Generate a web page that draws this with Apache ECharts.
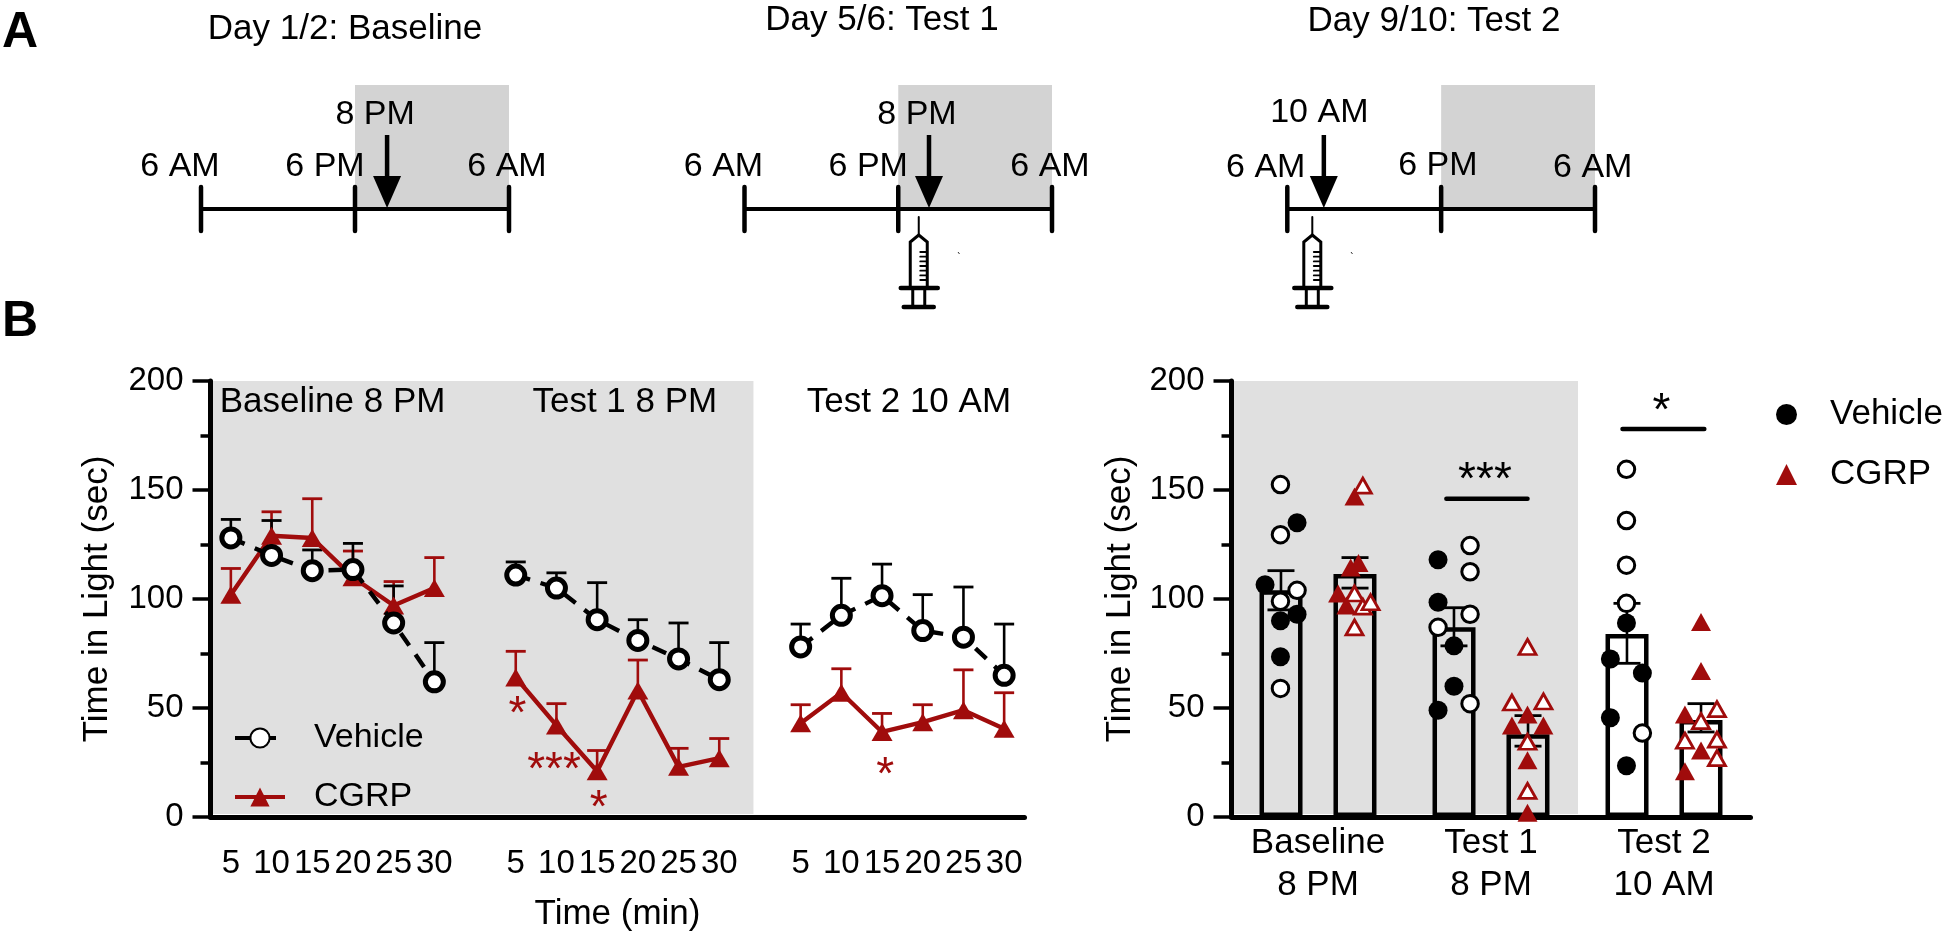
<!DOCTYPE html>
<html>
<head>
<meta charset="utf-8">
<title>Time in Light</title>
<script src="https://cdn.jsdelivr.net/npm/echarts@6/dist/echarts.min.js"></script>
<style>html,body{margin:0;padding:0;background:#fff}#c{width:1946px;height:937px}</style>
</head>
<body>
<div id="c"></div>
<script>
// ---------- Panel B, left: time course ----------
const timeLabels = ['5','10','15','20','25','30','','5','10','15','20','25','30','','5','10','15','20','25','30'];
const vehicleMean = [128,120,113,113.5,89,62,null,111,105,90.5,81,72.5,63,null,78,92.5,101.5,85.5,82.5,65];
const vehicleTop  = [136.5,136,122.5,125.5,106,80,null,117,112,107.5,90.5,89,80,null,88.5,109.5,116,102,105.5,88.5];
const cgrpMean = [102,129,128,110,97,105,null,64,42,21,58,23,27,null,43,57,39,43.5,49,40.5];
const cgrpTop  = [114,140,146,122,108,119,null,76,52,30.5,72,31.5,36,null,51.5,68,47.5,51.5,67.5,57];

// ---------- Panel B, right: bars with individual animals ----------
const sessionLabels = ['Baseline\n8 PM','Test 1\n8 PM','Test 2\n10 AM'];
const barVehicle = [104,87,84];
const barCgrp = [111.5,38,44.5];
const errVehicle = [[0.286,95,113],[1.286,78.5,96],[2.286,70.5,98]];
const errCgrp = [[0.714,105,119],[1.714,32.5,46.5],[2.714,39,52]];
const vehicleFilled = [[0.194,106.5],[0.379,135],[0.379,93],[0.283,90],[0.283,73.5],[1.194,118],[1.194,98.5],[1.286,78.5],[1.286,60],[1.194,49],[2.283,89],[2.19,72.5],[2.375,66],[2.19,45.5],[2.283,23.5]];
const vehicleOpen = [[0.283,152.5],[0.283,129.5],[0.379,104],[0.283,99],[0.283,59],[1.379,124.5],[1.379,112.5],[1.379,93],[1.194,87],[1.379,52],[2.283,159.5],[2.283,136],[2.283,115.5],[2.283,98],[2.375,38.5]];
const cgrpFilled = [[0.711,147],[0.734,116.5],[0.689,114.5],[0.616,102.5],[0.664,97],[1.711,47],[1.621,42],[1.803,42],[1.711,26],[1.711,2],[2.714,89.5],[2.714,67],[2.621,47],[2.714,30.5],[2.621,21]];
const cgrpOpen = [[0.759,152],[0.711,102.5],[0.759,96.5],[0.804,98.5],[0.711,87],[1.711,78],[1.621,52.5],[1.803,53],[1.711,34.5],[1.711,12],[2.806,49.5],[2.714,44],[2.621,35],[2.806,35.5],[2.806,27]];
const sigBars = [[1.242,1.711,146,'***'],[2.26,2.733,178,'*']];

// ---------- Panel A: timelines (hours after 6 AM) ----------
const timelineHours = [0,12,24];
const timelineLabels = ['6 AM','6 PM','6 AM'];
const darkHours = [12,24];
const timelineTitles = ['Day 1/2: Baseline','Day 5/6: Test 1','Day 9/10: Test 2'];
const arrowHours = [14.5,14.4,2.85];
const arrowLabels = ['8 PM','8 PM','10 AM'];
const syringeHours = [null,13.6,1.95];

const FONT = '"Liberation Sans", Arial, sans-serif';
const RED = '#a00c0c';
const GREY_B = '#e0e0e0';
const GREY_A = '#d3d3d3';

const line = (x1,y1,x2,y2,w,c) => ({type:'line',shape:{x1,y1,x2,y2},style:{stroke:c||'#000',lineWidth:w,lineCap:'round'}});
const txt = (x,y,t,size,c) => ({type:'text',style:{x,y,text:t,align:'center',verticalAlign:'middle',fill:c||'#000',font:`${size}px ${FONT}`}});

function syringe(x, y0){
  const kids = [
    line(x,y0+8,x,y0+26,2),
    {type:'polyline',shape:{points:[[x-8.5,y0+79],[x-8.5,y0+33],[x,y0+26],[x+8.5,y0+33],[x+8.5,y0+79]]},style:{stroke:'#000',lineWidth:3,fill:'none'}},
    line(x-18,y0+79,x+19,y0+79,4.5),
    line(x-15,y0+98,x+15,y0+98,4.5),
    line(x-6,y0+79,x-6,y0+98,3),
    line(x+6,y0+79,x+6,y0+98,3)
  ];
  [43,47.7,52.4,57,61.7,66.4,71].forEach(d => kids.push(line(x+1.5,y0+d,x+8,y0+d,1.8)));
  return kids;
}

const labelNudge = [[-21,-30,-2],[-21,-30,-2],[-21.6,-3.3,-2.3]];
const labelY = [[167,167,167],[167,167,167],[168,166,168]];
const arrowLabelNudge = [-12,-12,-4.5];
const arrowLabelY = [115,115,113];
const speckX = [null,958,1351];

function timelineSeries(i){
  return {
    type:'custom', xAxisIndex:i, yAxisIndex:i, silent:true, z:2,
    data:[[0,0]], encode:{x:0,y:1},
    renderItem(params, api){
      const p = h => api.coord([h,0]);
      const top = api.coord([0,1])[1];
      const kids = [];
      const a = p(darkHours[0]), b = p(darkHours[1]);
      kids.push({type:'rect',shape:{x:a[0],y:top,width:b[0]-a[0],height:a[1]-top},style:{fill:GREY_A}});
      kids.push({type:'line',shape:{x1:p(0)[0],y1:a[1],x2:p(24)[0],y2:a[1]},style:{stroke:'#000',lineWidth:4}});
      timelineHours.forEach((h,k)=>{
        const q = p(h);
        kids.push(line(q[0],q[1]-22,q[0],q[1]+22,4.5));
        kids.push(txt(q[0]+labelNudge[i][k],labelY[i][k],timelineLabels[k],34));
      });
      const ar = p(arrowHours[i]);
      kids.push({type:'line',shape:{x1:ar[0],y1:ar[1]-74,x2:ar[0],y2:ar[1]-32},style:{stroke:'#000',lineWidth:4.5}});
      kids.push({type:'polygon',shape:{points:[[ar[0]-14,ar[1]-33],[ar[0]+14,ar[1]-33],[ar[0],ar[1]-1]]},style:{fill:'#000'}});
      kids.push(txt(ar[0]+arrowLabelNudge[i],arrowLabelY[i],arrowLabels[i],34));
      if(syringeHours[i]!==null){
        const s = p(syringeHours[i]);
        kids.push(...syringe(s[0],s[1]));
        kids.push({type:'line',shape:{x1:speckX[i],y1:252,x2:speckX[i]+1.5,y2:254},style:{stroke:'#333',lineWidth:1}});
      }
      return {type:'group',children:kids};
    }
  };
}

function errorSeries(rows,color,xi,yi,both,capHalf,z){
  return {
    type:'custom', xAxisIndex:xi, yAxisIndex:yi, silent:true, z,
    data:rows, encode:{x:0,y:[1,2]},
    renderItem(params, api){
      const lo = api.coord([api.value(0),api.value(1)]);
      const hi = api.coord([api.value(0),api.value(2)]);
      const kids = [
        {type:'line',shape:{x1:hi[0],y1:lo[1],x2:hi[0],y2:hi[1]},style:{stroke:color,lineWidth:2.6}},
        {type:'line',shape:{x1:hi[0]-capHalf,y1:hi[1],x2:hi[0]+capHalf,y2:hi[1]},style:{stroke:color,lineWidth:2.8}}
      ];
      if(both) kids.push({type:'line',shape:{x1:hi[0]-capHalf,y1:lo[1],x2:hi[0]+capHalf,y2:lo[1]},style:{stroke:color,lineWidth:2.8}});
      return {type:'group',children:kids};
    }
  };
}

function annotationSeries(items,xi,yi,z){
  return {
    type:'custom', xAxisIndex:xi, yAxisIndex:yi, silent:true, z,
    data:items.map(d=>[d[0],d[1]]), encode:{x:0,y:1},
    renderItem(params, api){
      const d = items[params.dataIndex];
      const q = api.coord([d[0],d[1]]);
      return txt(q[0],q[1],d[2],d[3],d[4]);
    }
  };
}

function shadeSeries(x1,x2,y1,y2,xi,yi){
  return {
    type:'custom', xAxisIndex:xi, yAxisIndex:yi, silent:true, z:0,
    data:[[x1,y1,x2,y2]], encode:{x:[0,2],y:[1,3]},
    renderItem(params, api){
      const a = api.coord([api.value(0),api.value(1)]);
      const b = api.coord([api.value(2),api.value(3)]);
      return {type:'rect',shape:{x:a[0],y:b[1],width:b[0]-a[0],height:a[1]-b[1]},style:{fill:GREY_B}};
    }
  };
}

const yAxisCommon = {
  type:'value', min:0, max:200, interval:50,
  axisLine:{show:true,onZero:false,lineStyle:{color:'#000',width:5}},
  axisTick:{show:true,length:18,lineStyle:{color:'#000',width:3.5}},
  minorTick:{show:true,splitNumber:2,length:10,lineStyle:{color:'#000',width:3.5}},
  splitLine:{show:false},
  axisLabel:{fontSize:33,color:'#000',fontFamily:FONT,margin:27},
  name:'Time in Light (sec)', nameLocation:'middle', nameGap:96,
  nameTextStyle:{fontSize:35,color:'#000',fontFamily:FONT}
};
const hiddenAxis = (gridIndex,min,max) => ({type:'value',gridIndex,min,max,show:false,splitLine:{show:false}});

const zipErr = (mean,top) => mean.map((m,i)=> m===null ? [i,null,null] : [i,m,top[i]]);

const tlGrids = [[201,308],[744.5,307.5],[1287.3,307.7]].map(g=>({left:g[0],width:g[1],top:85,height:124,outerBoundsMode:'none'}));

const titleStyle = {fontSize:35,fontWeight:'normal',color:'#000',fontFamily:FONT};
const letterStyle = {fontSize:50,fontWeight:'bold',color:'#000',fontFamily:FONT};

const option = {
  animation:false,
  backgroundColor:'#fff',
  title:[
    {text:'A',left:2,top:8,padding:0,textStyle:letterStyle},
    {text:'B',left:2,top:297,padding:0,textStyle:letterStyle},
    {text:timelineTitles[0],left:345,top:12,padding:0,textAlign:'center',textStyle:titleStyle},
    {text:timelineTitles[1],left:882,top:3,padding:0,textAlign:'center',textStyle:titleStyle},
    {text:timelineTitles[2],left:1434,top:4,padding:0,textAlign:'center',textStyle:titleStyle}
  ],
  legend:[
    {data:['Vehicle','CGRP'],orient:'vertical',left:228,top:716,itemWidth:50,itemHeight:24,itemGap:25,selectedMode:false,
     lineStyle:{width:4},
     textStyle:{fontSize:34,color:'#000',fontFamily:FONT,padding:[0,0,0,24]}},
    {data:[{name:'Vehicle ',icon:'circle'},{name:'CGRP ',icon:'triangle'}],orient:'vertical',left:1771,top:392,itemWidth:21,itemHeight:21,itemGap:25,selectedMode:false,
     textStyle:{fontSize:35,color:'#000',fontFamily:FONT,padding:[0,0,0,28]}}
  ],
  grid:[...tlGrids,
    {left:210.5,top:381,width:814,height:436,outerBoundsMode:'none'},
    {left:1231.5,top:381,width:519,height:436,outerBoundsMode:'none'}
  ],
  xAxis:[
    hiddenAxis(0,0,24),hiddenAxis(1,0,24),hiddenAxis(2,0,24),
    {type:'category',gridIndex:3,data:timeLabels,
     axisLine:{onZero:false,lineStyle:{color:'#000',width:5}},
     axisTick:{alignWithLabel:true,length:19,interval:(i,v)=>v!=='',lineStyle:{color:'#000',width:3.5}},
     axisLabel:{interval:0,fontSize:33,color:'#000',fontFamily:FONT,margin:30},
     name:'Time (min)',nameLocation:'middle',nameGap:80,nameTextStyle:{fontSize:35,color:'#000',fontFamily:FONT}},
    hiddenAxis(3,0,20),
    {type:'category',gridIndex:4,data:sessionLabels,
     axisLine:{onZero:false,lineStyle:{color:'#000',width:5}},
     axisTick:{show:false},
     axisLabel:{interval:0,fontSize:35,color:'#000',fontFamily:FONT,margin:5,lineHeight:42}},
    hiddenAxis(4,0,3)
  ],
  yAxis:[
    {type:'value',gridIndex:0,min:0,max:1,show:false,splitLine:{show:false}},
    {type:'value',gridIndex:1,min:0,max:1,show:false,splitLine:{show:false}},
    {type:'value',gridIndex:2,min:0,max:1,show:false,splitLine:{show:false}},
    {...yAxisCommon,gridIndex:3},
    {...yAxisCommon,gridIndex:4,nameGap:94}
  ],
  series:[
    timelineSeries(0),timelineSeries(1),timelineSeries(2),

    // left panel
    shadeSeries(0,13.34,1.4,200,4,3),
    annotationSeries([[3,190,'Baseline 8 PM',35],[10.18,190,'Test 1 8 PM',35],[17.16,190,'Test 2 10 AM',35]],4,3,1),
    errorSeries(zipErr(cgrpMean,cgrpTop),RED,3,3,false,10,2),
    errorSeries(zipErr(vehicleMean,vehicleTop),'#000',3,3,false,10,2),
    {name:'CGRP',type:'line',xAxisIndex:3,yAxisIndex:3,z:3,data:cgrpMean,connectNulls:false,
     symbol:'triangle',symbolSize:[21,18],lineStyle:{color:RED,width:4.4},itemStyle:{color:RED}},
    {name:'Vehicle',type:'line',xAxisIndex:3,yAxisIndex:3,z:4,data:vehicleMean,connectNulls:false,
     symbol:'circle',symbolSize:18,showAllSymbol:true,lineStyle:{color:'#000',width:4.4,type:[15,11]},
     itemStyle:{color:'#fff',borderColor:'#000',borderWidth:5}},
    annotationSeries([[7.54,46.5,'*',46,RED],[8.44,21,'***',46,RED],[9.54,3.3,'*',46,RED],[16.58,18.6,'*',46,RED]],4,3,5),

    // right panel
    shadeSeries(0,2.003,1.4,200,6,4),
    {name:'Vehicle mean',type:'bar',xAxisIndex:5,yAxisIndex:4,z:2,data:barVehicle,barWidth:43,barGap:'72%',
     itemStyle:{color:'rgba(0,0,0,0)',borderColor:'#000',borderWidth:4.5}},
    {name:'CGRP mean',type:'bar',xAxisIndex:5,yAxisIndex:4,z:2,data:barCgrp,barWidth:43,barGap:'72%',
     itemStyle:{color:'rgba(0,0,0,0)',borderColor:'#000',borderWidth:4.5}},
    errorSeries(errVehicle,'#000',6,4,true,13.5,2),
    errorSeries(errCgrp,'#000',6,4,true,13.5,2),
    {name:'Vehicle ',type:'scatter',xAxisIndex:6,yAxisIndex:4,z:3,data:vehicleFilled,symbol:'circle',symbolSize:19,itemStyle:{color:'#000',opacity:1}},
    {name:'Vehicle open',type:'scatter',xAxisIndex:6,yAxisIndex:4,z:3,data:vehicleOpen,symbol:'circle',symbolSize:16.5,itemStyle:{color:'#fff',borderColor:'#000',borderWidth:3,opacity:1}},
    {name:'CGRP ',type:'scatter',xAxisIndex:6,yAxisIndex:4,z:3,data:cgrpFilled,symbol:'triangle',symbolSize:[20,18],itemStyle:{color:RED,opacity:1}},
    {name:'CGRP open',type:'scatter',xAxisIndex:6,yAxisIndex:4,z:3,data:cgrpOpen,symbol:'triangle',symbolSize:[17,15],itemStyle:{color:'#fff',borderColor:RED,borderWidth:2.8,opacity:1}},
    {type:'custom',xAxisIndex:6,yAxisIndex:4,silent:true,z:4,data:sigBars.map(s=>[s[0],s[2],s[1]]),encode:{x:[0,2],y:1},
     renderItem(params,api){
       const a = api.coord([api.value(0),api.value(1)]);
       const b = api.coord([api.value(2),api.value(1)]);
       return {type:'group',children:[
         {type:'line',shape:{x1:a[0],y1:a[1],x2:b[0],y2:b[1]},style:{stroke:'#000',lineWidth:4.5,lineCap:'round'}},
         txt((a[0]+b[0])/2-2,a[1]-17,sigBars[params.dataIndex][3],46)
       ]};
     }}
  ]
};

const chart = echarts.init(document.getElementById('c'),null,{renderer:'canvas'});
chart.setOption(option);
</script>
</body>
</html>
